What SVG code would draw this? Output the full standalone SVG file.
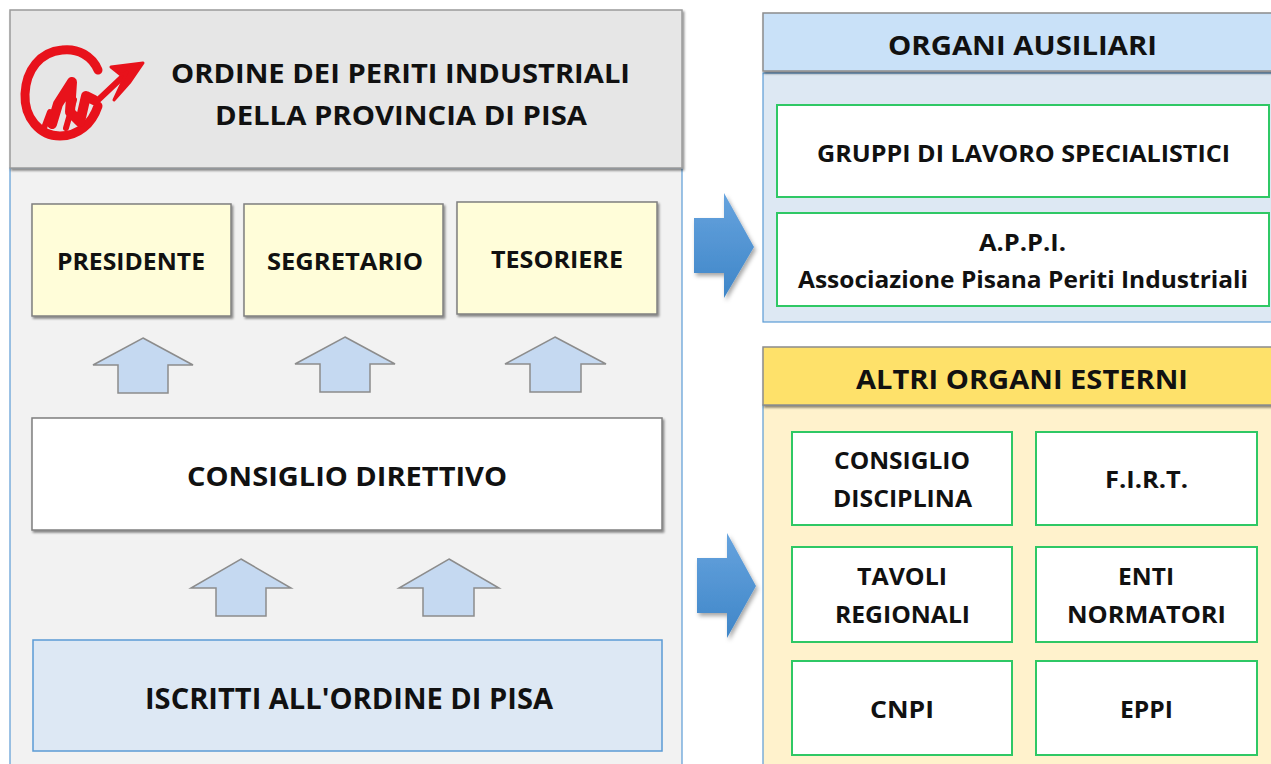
<svg xmlns="http://www.w3.org/2000/svg" width="1271" height="764" viewBox="0 0 1271 764">
<defs>
<filter id="sh" x="-10%" y="-10%" width="120%" height="130%">
<feDropShadow dx="1.5" dy="2" stdDeviation="1.2" flood-color="#000" flood-opacity="0.45"/>
</filter>
<filter id="sh2" x="-20%" y="-20%" width="150%" height="150%">
<feDropShadow dx="2" dy="3" stdDeviation="2" flood-color="#000" flood-opacity="0.35"/>
</filter>
<linearGradient id="bluearrow" x1="0" y1="0" x2="0" y2="1">
<stop offset="0" stop-color="#66a3de"/>
<stop offset="1" stop-color="#3f86c8"/>
</linearGradient>
<style>
text{font-family:"Open Sans","Liberation Sans",sans-serif;font-weight:700;fill:#111;text-anchor:middle}
.hdr{fill:#e6e6e6;stroke:#9a9a9a;stroke-width:1.5}
.panel{fill:#f2f2f2;stroke:#5b9bd5;stroke-width:1.2}
.role{fill:#fffdd9;stroke:#7f7f7f;stroke-width:1.5}
.white{fill:#fff;stroke:#7f7f7f;stroke-width:1.5}
.isc{fill:#dde8f4;stroke:#5b9bd5;stroke-width:1.5}
.up{fill:#c5d9f1;stroke:#8c8c8c;stroke-width:1.5}
.grn{fill:#fff;stroke:#2fc865;stroke-width:2}
.t24{font-size:23px}
.t28{font-size:27px}
</style>
</defs>
<rect width="1271" height="764" fill="#fff"/>

<g id="left-panel">
<rect class="panel" x="10" y="168" width="672" height="600"/>
</g>

<g id="header">
<rect class="hdr" x="10" y="10" width="672" height="158" filter="url(#sh)"/>
<g id="logo" fill="none" stroke="#e8121b" stroke-linecap="round" stroke-linejoin="round">
<path d="M98 70 C92 56 78 48 62 50 C40 52 26 70 25 94 C24 118 40 136 60 136 C78 136 92 124 98 106" stroke-width="9"/>
<path d="M52 124 L58 104 L72 82 L70 112 L80 122 L86 96 L94 100" stroke-width="10"/>
<path d="M44 128 L50 112 M66 128 L74 100" stroke-width="6"/>
<path d="M96 102 L132 68" stroke-width="6"/>
<path d="M143 63 L111 67 L121 75 L127 72 L114 100 L130 82 Z" fill="#e8121b" stroke-width="3"/>
</g>
<text class="t28" x="400.5" y="83" textLength="459" lengthAdjust="spacingAndGlyphs">ORDINE DEI PERITI INDUSTRIALI</text>
<text class="t28" x="401" y="125" textLength="372" lengthAdjust="spacingAndGlyphs">DELLA PROVINCIA DI PISA</text>
</g>

<g id="presidente">
<rect class="role" x="32" y="204" width="199" height="112" filter="url(#sh)"/>
<text class="t24" x="131" y="270" textLength="148" lengthAdjust="spacingAndGlyphs">PRESIDENTE</text>
</g>
<g id="segretario">
<rect class="role" x="244" y="204" width="199" height="112" filter="url(#sh)"/>
<text class="t24" x="345" y="270" textLength="156" lengthAdjust="spacingAndGlyphs">SEGRETARIO</text>
</g>
<g id="tesoriere">
<rect class="role" x="457" y="202" width="200" height="112" filter="url(#sh)"/>
<text class="t24" x="557" y="268" textLength="132" lengthAdjust="spacingAndGlyphs">TESORIERE</text>
</g>

<g id="consiglio-direttivo">
<rect class="white" x="32" y="418" width="630" height="112" filter="url(#sh)"/>
<text class="t28" x="347" y="486" textLength="320" lengthAdjust="spacingAndGlyphs">CONSIGLIO DIRETTIVO</text>
</g>

<g id="iscritti">
<rect class="isc" x="33" y="640" width="629" height="111"/>
<text x="349" y="709" font-size="29" textLength="408" lengthAdjust="spacingAndGlyphs">ISCRITTI ALL'ORDINE DI PISA</text>
</g>

<g id="organi-ausiliari">
<rect x="763" y="73" width="520" height="249" fill="#dde8f3" stroke="#5b9bd5" stroke-width="1.2"/>
<rect x="763" y="13" width="520" height="58" fill="#c9e1f8" stroke="#8c8c8c" stroke-width="1.5" filter="url(#sh)"/>
<text class="t28" x="1022.5" y="55" textLength="269" lengthAdjust="spacingAndGlyphs">ORGANI AUSILIARI</text>
</g>
<g id="gruppi-lavoro">
<rect class="grn" x="777" y="105" width="492" height="92"/>
<text class="t24" x="1023.5" y="162" textLength="413" lengthAdjust="spacingAndGlyphs">GRUPPI DI LAVORO SPECIALISTICI</text>
</g>
<g id="appi">
<rect class="grn" x="777" y="213" width="492" height="93"/>
<text class="t24" x="1022.5" y="251" textLength="87" lengthAdjust="spacingAndGlyphs">A.P.P.I.</text>
<text class="t24" x="1023" y="288" textLength="450" lengthAdjust="spacingAndGlyphs">Associazione Pisana Periti Industriali</text>
</g>

<g id="altri-organi-esterni">
<rect x="763" y="405" width="520" height="370" fill="#fff2cc" stroke="#5b9bd5" stroke-width="1.2"/>
<rect x="763" y="347" width="520" height="58" fill="#fee16a" stroke="#8c8c8c" stroke-width="1.5" filter="url(#sh)"/>
<text class="t28" x="1022" y="389" textLength="332" lengthAdjust="spacingAndGlyphs">ALTRI ORGANI ESTERNI</text>
</g>
<g id="consiglio-disciplina">
<rect class="grn" x="792" y="432" width="220" height="93"/>
<text class="t24" x="902" y="469" textLength="136" lengthAdjust="spacingAndGlyphs">CONSIGLIO</text>
<text class="t24" x="902.5" y="507" textLength="139" lengthAdjust="spacingAndGlyphs">DISCIPLINA</text>
</g>
<g id="firt">
<rect class="grn" x="1036" y="432" width="221" height="93"/>
<text class="t24" x="1146.5" y="488" textLength="83" lengthAdjust="spacingAndGlyphs">F.I.R.T.</text>
</g>
<g id="tavoli-regionali">
<rect class="grn" x="792" y="547" width="220" height="95"/>
<text class="t24" x="902" y="585" textLength="90" lengthAdjust="spacingAndGlyphs">TAVOLI</text>
<text class="t24" x="902.5" y="623" textLength="135" lengthAdjust="spacingAndGlyphs">REGIONALI</text>
</g>
<g id="enti-normatori">
<rect class="grn" x="1036" y="547" width="221" height="95"/>
<text class="t24" x="1146" y="585" textLength="56" lengthAdjust="spacingAndGlyphs">ENTI</text>
<text class="t24" x="1146.5" y="623" textLength="159" lengthAdjust="spacingAndGlyphs">NORMATORI</text>
</g>
<g id="cnpi">
<rect class="grn" x="792" y="661" width="220" height="94"/>
<text class="t24" x="902" y="718" textLength="64" lengthAdjust="spacingAndGlyphs">CNPI</text>
</g>
<g id="eppi">
<rect class="grn" x="1036" y="661" width="221" height="94"/>
<text class="t24" x="1146.5" y="718" textLength="53" lengthAdjust="spacingAndGlyphs">EPPI</text>
</g>

<g id="connectors">
<path class="up" d="M143 338 L193 365 L168 365 L168 393 L118 393 L118 365 L93 365 Z"/>
<path class="up" d="M345 337 L395 364 L370 364 L370 392 L320 392 L320 364 L295 364 Z"/>
<path class="up" d="M555 337 L606 364 L581 364 L581 392 L530 392 L530 364 L505 364 Z"/>
<path class="up" d="M241 559 L291 588 L266 588 L266 616 L216 616 L216 588 L191 588 Z"/>
<path class="up" d="M449 559 L499 588 L474 588 L474 616 L423 616 L423 588 L399 588 Z"/>
<path d="M694 218 L724 218 L724 193 L754 247 L724 298 L724 273 L694 273 Z" fill="url(#bluearrow)" filter="url(#sh2)"/>
<path d="M697 558 L727 558 L727 533 L756 586 L727 638 L727 613 L697 613 Z" fill="url(#bluearrow)" filter="url(#sh2)"/>
</g>
</svg>
